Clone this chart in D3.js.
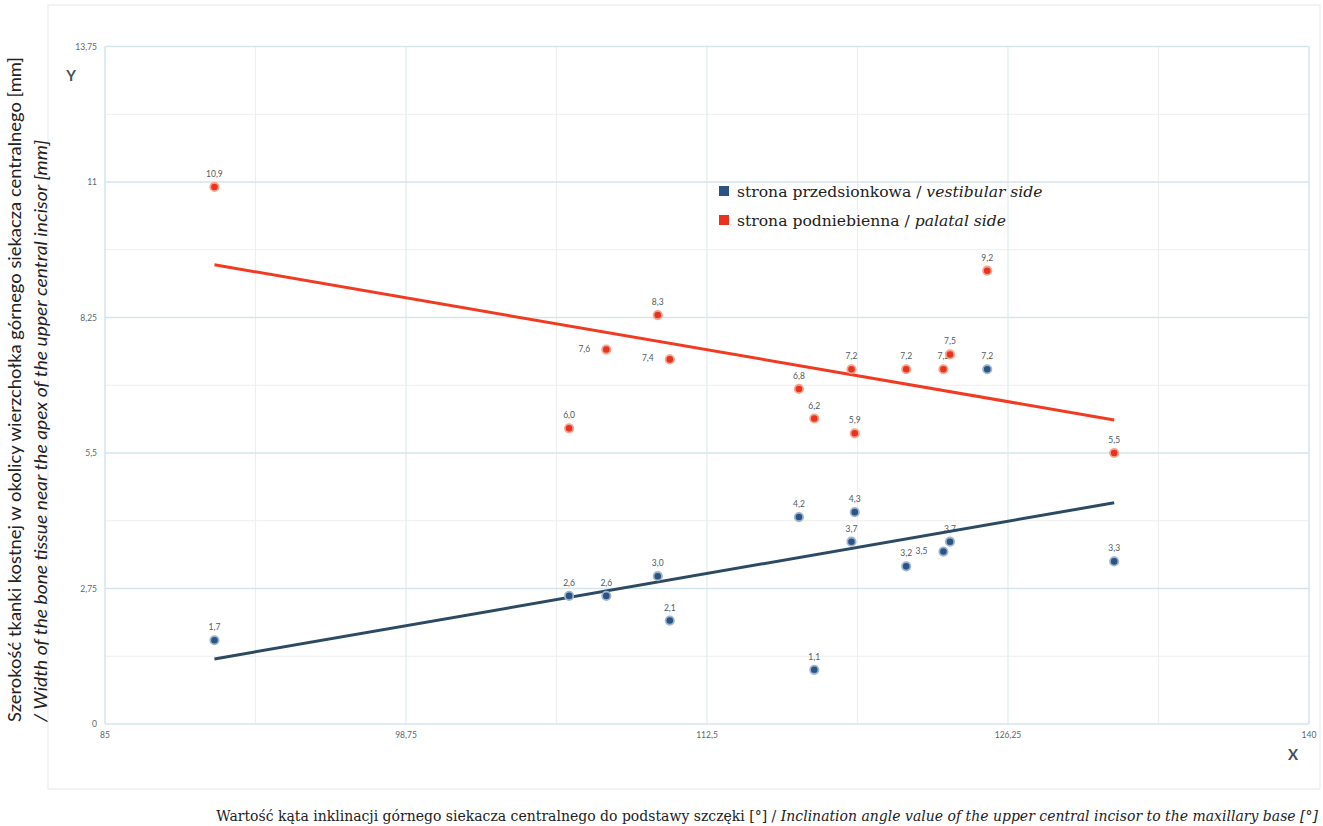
<!DOCTYPE html>
<html>
<head>
<meta charset="utf-8">
<script src="https://cdn.jsdelivr.net/npm/d3@7"></script>
<style>
  body { margin: 0; background: #fff; }
  svg { display: block; }
</style>
</head>
<body>
<div id="chart"></div>
<script>
// dane
const angles = [90.0, 106.2, 107.9, 110.25, 110.8, 116.7, 117.4, 119.1, 119.25, 121.6, 123.3, 123.6, 125.3, 131.1]
const vestibular = [1.7, 2.6, 2.6, 3.0, 2.1, 4.2, 1.1, 3.7, 4.3, 3.2, 3.5, 3.7, 7.2, 3.3]
const palatal = [10.9, 6.0, 7.6, 8.3, 7.4, 6.8, 6.2, 7.2, 5.9, 7.2, 7.2, 7.5, 9.2, 5.5]
// linie trendu (początek i koniec)
const trendX = [90.0, 131.1]
const trendVestibular = [1.32, 4.49]
const trendPalatal = [9.32, 6.17]
const xTicks = [85, 98.75, 112.5, 126.25, 140]
const yTicks = [0, 2.75, 5.5, 8.25, 11, 13.75]
const seriesNames = [
  ['strona przedsionkowa / ', 'vestibular side'],
  ['strona podniebienna / ', 'palatal side']
]

const W = 1323
const H = 826
const fmt = d => String(d).replace('.', ',')
const fmt1 = d => d.toFixed(1).replace('.', ',')

const svg = d3.select('#chart').append('svg')
  .attr('width', W)
  .attr('height', H)

const x = d3.scaleLinear().domain([85, 140]).range([105, 1309])
const y = d3.scaleLinear().domain([0, 13.75]).range([724, 46.5])

// ramka zewnętrzna
svg.append('rect')
  .attr('x', 48).attr('y', 5)
  .attr('width', 1272).attr('height', 784)
  .attr('fill', 'none')
  .attr('stroke', '#e8ecee')
  .attr('stroke-width', 1.2)

// siatka pomocnicza
const minorX = d3.range(85 + 6.875, 140, 13.75)
const minorY = d3.range(1.375, 13.75, 2.75)
svg.append('g').selectAll('line').data(minorX).join('line')
  .attr('x1', d => x(d)).attr('x2', d => x(d))
  .attr('y1', y(0)).attr('y2', y(13.75))
  .attr('stroke', '#eeeeee').attr('stroke-width', 1.2)
svg.append('g').selectAll('line').data(minorY).join('line')
  .attr('x1', x(85)).attr('x2', x(140))
  .attr('y1', d => y(d)).attr('y2', d => y(d))
  .attr('stroke', '#eeeeee').attr('stroke-width', 1.2)

// siatka główna
const gridColor = '#d5e5ec'
svg.append('g').selectAll('line').data(xTicks).join('line')
  .attr('x1', d => x(d)).attr('x2', d => x(d))
  .attr('y1', y(0)).attr('y2', y(13.75))
  .attr('stroke', d => (d === 85 || d === 140) ? '#cde0ea' : '#e4ecef')
  .attr('stroke-width', 1.3)
svg.append('g').selectAll('line').data(yTicks).join('line')
  .attr('x1', x(85)).attr('x2', x(140))
  .attr('y1', d => y(d)).attr('y2', d => y(d))
  .attr('stroke', gridColor)
  .attr('stroke-width', 1.3)

// etykiety osi
const tickFont = 'Lato, "Open Sans", sans-serif'
svg.append('g').selectAll('text').data(xTicks).join('text')
  .attr('x', d => x(d))
  .attr('y', y(0) + 14)
  .attr('text-anchor', 'middle')
  .attr('font-family', tickFont)
  .attr('font-size', 8.5)
  .attr('fill', '#5a6870')
  .text(fmt)
svg.append('g').selectAll('text').data(yTicks).join('text')
  .attr('x', 97)
  .attr('y', d => y(d) + 3)
  .attr('text-anchor', 'end')
  .attr('font-family', tickFont)
  .attr('font-size', 8.5)
  .attr('fill', '#5a6870')
  .text(fmt)

svg.append('text')
  .attr('x', 71).attr('y', 81)
  .attr('text-anchor', 'middle')
  .attr('font-family', 'Lato, sans-serif')
  .attr('font-weight', 'bold')
  .attr('font-size', 15)
  .attr('fill', '#4a4f55')
  .text('Y')
svg.append('text')
  .attr('x', 1293).attr('y', 760)
  .attr('text-anchor', 'middle')
  .attr('font-family', 'Lato, sans-serif')
  .attr('font-weight', 'bold')
  .attr('font-size', 15)
  .attr('fill', '#4a4f55')
  .text('X')

// etykiety punktów
const leftLabel = { vestibular: [10], palatal: [2, 4] }
const series = [
  { key: 'vestibular', values: vestibular, fill: '#2b5485', halo: '#9fb4cf' },
  { key: 'palatal', values: palatal, fill: '#ea3220', halo: '#f6a58f' }
]

series.forEach(s => {
  svg.append('g').selectAll('text').data(s.values).join('text')
    .attr('x', (d, i) => leftLabel[s.key].includes(i) ? x(angles[i]) - 22 : x(angles[i]))
    .attr('y', (d, i) => leftLabel[s.key].includes(i) ? y(d) + 2 : y(d) - 10)
    .attr('text-anchor', 'middle')
    .attr('font-family', tickFont)
    .attr('font-size', 8.5)
    .attr('fill', '#505a62')
    .text(fmt1)
})

// linie trendu
const line = d3.line().x(d => x(d[0])).y(d => y(d[1]))
svg.append('path')
  .datum(trendX.map((d, i) => [d, trendVestibular[i]]))
  .attr('d', line)
  .attr('fill', 'none')
  .attr('stroke', '#2c4a64')
  .attr('stroke-width', 3)
svg.append('path')
  .datum(trendX.map((d, i) => [d, trendPalatal[i]]))
  .attr('d', line)
  .attr('fill', 'none')
  .attr('stroke', '#f03a22')
  .attr('stroke-width', 3)

// punkty
series.forEach(s => {
  svg.append('g').selectAll('circle').data(s.values).join('circle')
    .attr('cx', (d, i) => x(angles[i]))
    .attr('cy', d => y(d))
    .attr('r', 4.2)
    .attr('fill', s.fill)
    .attr('stroke', s.halo)
    .attr('stroke-width', 1.8)
})

// legenda
const legendColors = ['#2b5485', '#ea3220']
const legend = svg.append('g')
seriesNames.forEach((n, i) => {
  const ly = 197 + i * 29
  legend.append('rect')
    .attr('x', 719).attr('y', ly - 11)
    .attr('width', 10).attr('height', 10)
    .attr('fill', legendColors[i])
  const t = legend.append('text')
    .attr('x', 737).attr('y', ly)
    .attr('font-family', '"DejaVu Serif", serif')
    .attr('font-size', 15.6)
    .attr('fill', '#222')
  t.append('tspan').text(n[0])
  t.append('tspan').attr('font-style', 'italic').text(n[1])
})

// tytuły osi
const xTitle = svg.append('text')
  .attr('x', 1318).attr('y', 821)
  .attr('text-anchor', 'end')
  .attr('font-family', '"DejaVu Serif", serif')
  .attr('font-size', 14)
  .attr('fill', '#222')
xTitle.append('tspan').text('Wartość kąta inklinacji górnego siekacza centralnego do podstawy szczęki [°] / ')
xTitle.append('tspan').attr('font-style', 'italic')
  .text('Inclination angle value of the upper central incisor to the maxillary base [°]')

svg.append('text')
  .attr('transform', 'translate(21,722) rotate(-90)')
  .attr('font-family', 'Lato, sans-serif')
  .attr('font-size', 17.5)
  .attr('textLength', 665)
  .attr('lengthAdjust', 'spacingAndGlyphs')
  .attr('fill', '#222')
  .text('Szerokość tkanki kostnej w okolicy wierzchołka górnego siekacza centralnego [mm]')
svg.append('text')
  .attr('transform', 'translate(47,722) rotate(-90)')
  .attr('font-family', 'Lato, sans-serif')
  .attr('font-style', 'italic')
  .attr('font-size', 17.5)
  .attr('textLength', 582)
  .attr('lengthAdjust', 'spacingAndGlyphs')
  .attr('fill', '#222')
  .text('/ Width of the bone tissue near the apex of the upper central incisor [mm]')
</script>
</body>
</html>
